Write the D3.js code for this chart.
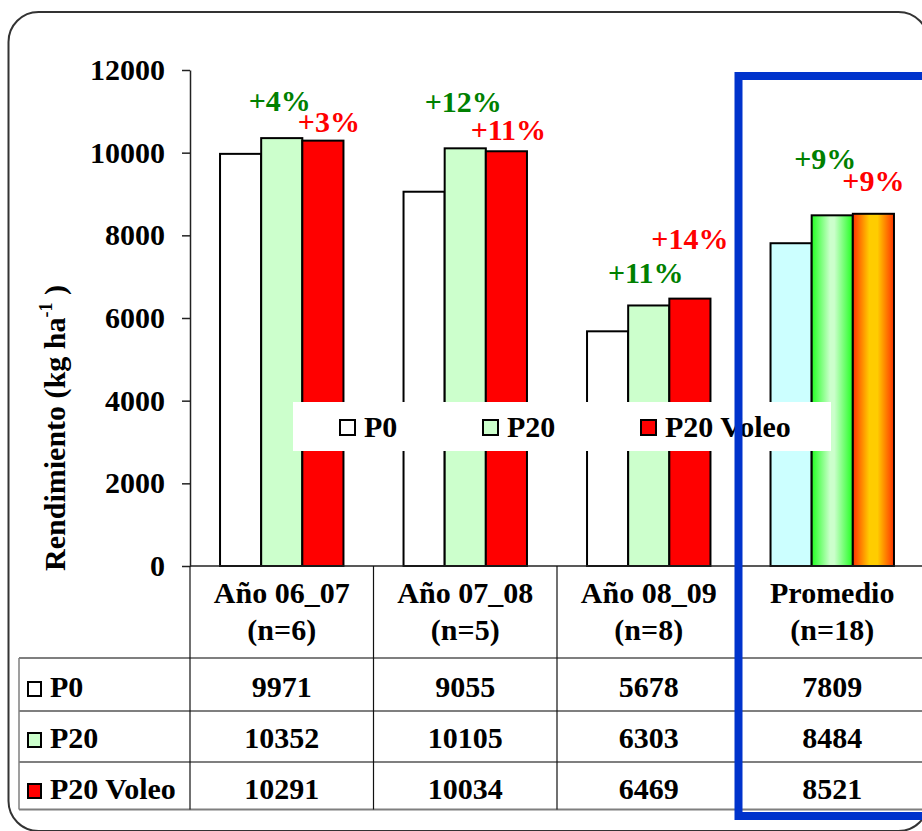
<!DOCTYPE html>
<html>
<head>
<meta charset="utf-8">
<script src="https://cdn.jsdelivr.net/npm/d3@7"></script>
<style>
  html, body { margin: 0; padding: 0; background: #ffffff; }
  svg { display: block; }
</style>
</head>
<body>
<svg id="chart" width="922" height="831"></svg>
<script>
// Yield (kg/ha) per season and treatment
const categories = ["Año 06_07", "Año 07_08", "Año 08_09", "Promedio"];
const sampleSizes = ["(n=6)", "(n=5)", "(n=8)", "(n=18)"];
const seriesNames = ["P0", "P20", "P20 Voleo"];
const p0Values = [9971, 9055, 5678, 7809];
const p20Values = [10352, 10105, 6303, 8484];
const p20VoleoValues = [10291, 10034, 6469, 8521];
const yTicks = [0, 2000, 4000, 6000, 8000, 10000, 12000];

const seriesValues = [p0Values, p20Values, p20VoleoValues];

// layout
const plot = { left: 190, right: 924, top: 70, bottom: 566 };
const tableRows = [658, 711, 762, 809.5];   // bottom edge of header + each data row
const FONT = 30;
const SERIF = "'Liberation Serif', 'Times New Roman', Tinos, 'DejaVu Serif', serif";

// hand-placed lift (px above bar top) and nudge of the percent labels
const greenLift = [27, 36, 22, 46], greenNudge = [-2, -2, -3, -7];
const redLift = [9, 11, 50, 23], redNudge = [6, 2, 0, 0];

const svg = d3.select("#chart")
  .style("font-family", SERIF)
  .style("font-weight", "bold");
const defs = svg.append("defs");

function serifText(sel) {
  return sel.style("font-family", SERIF).style("font-weight", "bold");
}

function hGradient(id, stops) {
  const g = defs.append("linearGradient").attr("id", id)
    .attr("x1", "0%").attr("x2", "100%").attr("y1", "0%").attr("y2", "0%");
  stops.forEach(([o, c]) => g.append("stop").attr("offset", o).attr("stop-color", c));
}
hGradient("gradGreen", [["0%", "#22ff22"], ["45%", "#ccffcc"], ["55%", "#ccffcc"], ["100%", "#22ff22"]]);
hGradient("gradOrange", [["0%", "#ff3300"], ["40%", "#ffcc00"], ["60%", "#ffcc00"], ["100%", "#ff3300"]]);

const plainFill = ["#ffffff", "#ccffcc", "#ff0000"];
const highlightFill = ["#ccffff", "url(#gradGreen)", "url(#gradOrange)"];
const legendFill = ["#ffffff", "#ccffcc", "#ff0000"];

// outer rounded frame
svg.append("rect")
  .attr("x", 8.5).attr("y", 12).attr("width", 920).attr("height", 819)
  .attr("rx", 30).attr("ry", 30)
  .attr("fill", "#ffffff").attr("stroke", "#333333").attr("stroke-width", 2);

// scales
const x = d3.scaleBand().domain(categories).range([plot.left, plot.right]).padding(0);
const xs = d3.scaleBand().domain(seriesNames).range([0, x.bandwidth()]).paddingInner(0).paddingOuter(0.73);
const y = d3.scaleLinear().domain([0, 12000]).range([plot.bottom, plot.top]);

// bars
const barData = [];
categories.forEach((c, ci) => {
  seriesNames.forEach((s, si) => {
    barData.push({ c, ci, s, si, v: seriesValues[si][ci] });
  });
});
svg.append("g").selectAll("rect").data(barData).join("rect")
  .attr("x", d => x(d.c) + xs(d.s))
  .attr("y", d => y(d.v))
  .attr("width", xs.bandwidth())
  .attr("height", d => y(0) - y(d.v))
  .attr("fill", d => d.ci === categories.length - 1 ? highlightFill[d.si] : plainFill[d.si])
  .attr("stroke", "#000000").attr("stroke-width", 2);

// y axis
const yAxis = svg.append("g")
  .attr("transform", `translate(${plot.left},0)`)
  .call(d3.axisLeft(y).tickValues(yTicks).tickSize(8).tickSizeOuter(0).tickPadding(17).tickFormat(d3.format("d")));
yAxis.attr("font-family", null).attr("font-size", null);
yAxis.select(".domain").attr("stroke", "#222222").attr("stroke-width", 1.5);
yAxis.selectAll(".tick line").attr("stroke", "#222222").attr("stroke-width", 1.5);
serifText(yAxis.selectAll(".tick text"))
  .attr("font-size", FONT)
  .attr("fill", "#000000");

// x axis baseline
svg.append("line")
  .attr("x1", plot.left).attr("x2", plot.right)
  .attr("y1", y(0)).attr("y2", y(0))
  .attr("stroke", "#222222").attr("stroke-width", 1.5);

// y axis title
const yTitle = serifText(svg.append("text"))
  .attr("transform", `translate(65,428) rotate(-90)`)
  .attr("text-anchor", "middle")
  .attr("font-size", FONT);
yTitle.append("tspan").text("Rendimiento (kg ha");
yTitle.append("tspan").attr("font-size", 18).attr("dy", -13).text("-1");
yTitle.append("tspan").attr("dy", 13).text(" )");

// percent change vs P0
const pct = (v, base) => "+" + Math.round((v / base - 1) * 100) + "%";
const labelG = svg.append("g").attr("font-size", FONT).attr("text-anchor", "middle");
categories.forEach((c, ci) => {
  serifText(labelG.append("text"))
    .attr("x", x(c) + xs("P20") + xs.bandwidth() / 2 + greenNudge[ci])
    .attr("y", y(p20Values[ci]) - greenLift[ci])
    .attr("fill", "#008000")
    .text(pct(p20Values[ci], p0Values[ci]));
  serifText(labelG.append("text"))
    .attr("x", x(c) + xs("P20 Voleo") + xs.bandwidth() / 2 + redNudge[ci])
    .attr("y", y(p20VoleoValues[ci]) - redLift[ci])
    .attr("fill", "#ff0000")
    .text(pct(p20VoleoValues[ci], p0Values[ci]));
});

// legend
const legend = svg.append("g");
legend.append("rect")
  .attr("x", 293).attr("y", 402).attr("width", 538).attr("height", 49)
  .attr("fill", "#ffffff");
const legendX = [340, 483, 641];
seriesNames.forEach((s, i) => {
  legend.append("rect")
    .attr("x", legendX[i]).attr("y", 420).attr("width", 15).attr("height", 15)
    .attr("fill", legendFill[i]).attr("stroke", "#000000").attr("stroke-width", 2);
  serifText(legend.append("text"))
    .attr("x", legendX[i] + 24).attr("y", 437)
    .attr("font-size", FONT).attr("fill", "#000000")
    .text(s);
});

// data table under the axis
const table = svg.append("g");
tableRows.forEach(ty => {
  table.append("line")
    .attr("x1", 19).attr("x2", plot.right)
    .attr("y1", ty).attr("y2", ty)
    .attr("stroke", "#7f7f7f").attr("stroke-width", 2);
});
table.append("line")
  .attr("x1", 19).attr("x2", 19).attr("y1", tableRows[0]).attr("y2", tableRows[3])
  .attr("stroke", "#7f7f7f").attr("stroke-width", 1.5);
categories.forEach(c => {
  table.append("line")
    .attr("x1", x(c)).attr("x2", x(c))
    .attr("y1", y(0)).attr("y2", tableRows[3])
    .attr("stroke", "#111111").attr("stroke-width", 1.2);
});
// column headers
categories.forEach((c, ci) => {
  const cx = x(c) + x.bandwidth() / 2;
  serifText(table.append("text")).attr("x", cx).attr("y", 603)
    .attr("text-anchor", "middle").attr("font-size", FONT).text(c);
  serifText(table.append("text")).attr("x", cx).attr("y", 640)
    .attr("text-anchor", "middle").attr("font-size", FONT).text(sampleSizes[ci]);
});
// rows
const rowBaselines = [697, 748, 799];
seriesNames.forEach((s, si) => {
  const by = rowBaselines[si];
  table.append("rect")
    .attr("x", 28).attr("y", by - 15).attr("width", 13).attr("height", 14)
    .attr("fill", legendFill[si]).attr("stroke", "#000000").attr("stroke-width", 2);
  serifText(table.append("text")).attr("x", 50).attr("y", by)
    .attr("font-size", FONT).text(s);
  categories.forEach((c, ci) => {
    serifText(table.append("text"))
      .attr("x", x(c) + x.bandwidth() / 2).attr("y", by)
      .attr("text-anchor", "middle").attr("font-size", FONT)
      .text(seriesValues[si][ci]);
  });
});

// highlight box around the average column
svg.append("rect")
  .attr("x", 738.5).attr("y", 76).attr("width", 300).attr("height", 740)
  .attr("fill", "none").attr("stroke", "#0033cc").attr("stroke-width", 8);
</script>
</body>
</html>
